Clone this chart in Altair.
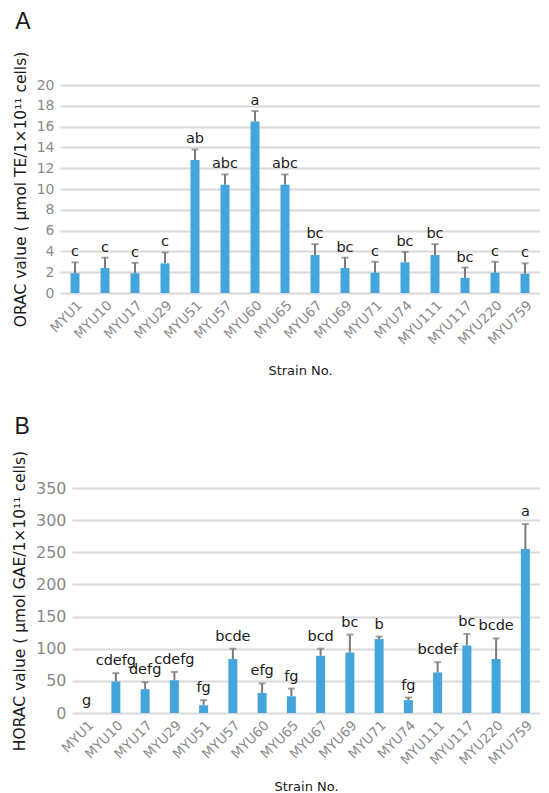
import altair as alt
import pandas as pd

strains = ["MYU1", "MYU10", "MYU17", "MYU29", "MYU51", "MYU57", "MYU60", "MYU65",
           "MYU67", "MYU69", "MYU71", "MYU74", "MYU111", "MYU117", "MYU220", "MYU759"]

orac_mean = [1.9, 2.4, 1.9, 2.85, 12.8, 10.4, 16.5, 10.4, 3.65, 2.4, 1.95, 2.95, 3.65, 1.45, 1.95, 1.85]
orac_err = [1.05, 1.0, 1.0, 1.05, 1.0, 1.0, 1.0, 1.0, 1.05, 1.0, 1.05, 1.0, 1.05, 1.0, 1.05, 1.0]
orac_letters = ["c", "c", "c", "c", "ab", "abc", "a", "abc", "bc", "bc", "c", "bc", "bc", "bc", "c", "c"]

horac_mean = [0, 49, 37, 51, 12, 84, 31, 26, 89, 94, 115, 20, 63, 105, 84, 255]
horac_err = [0, 13, 11, 13, 8, 16, 15, 12, 11, 28, 4, 4, 16, 18, 32, 39]
horac_letters = ["g", "cdefg", "defg", "cdefg", "fg", "bcde", "efg", "fg", "bcd", "bc", "b", "fg",
                 "bcdef", "bc", "bcde", "a"]

orac_ticks = list(range(0, 21, 2))
horac_ticks = list(range(0, 351, 50))

BAR = "#44a4dc"
ERR = "#7a7a7a"
GRID = "#d9d9d9"
LABEL = "#8a8a8a"
FONT = "DejaVu Sans"
W = 480


def panel(means, errs, letters, letter, ytitle, ticks, height,
          ylab_size, xrange, yoffset, xtitle_pad, text_dy, title_offset):
    df = pd.DataFrame({
        "strain": strains,
        "mean": means,
        "upper": [m + e for m, e in zip(means, errs)],
        "letters": letters,
    })
    x = alt.X("strain:N", sort=strains,
              scale=alt.Scale(paddingInner=0, paddingOuter=0, range=xrange),
              axis=alt.Axis(title="Strain No.", labelAngle=-45, labelFont=FONT,
                            labelFontSize=13.5, labelColor=LABEL, labelPadding=5,
                            labelOverlap=False,
                            ticks=False, domain=False, grid=False,
                            titleFont=FONT, titleFontSize=13, titleFontWeight="normal",
                            titleColor="#1a1a1a", titlePadding=xtitle_pad))
    yscale = alt.Scale(domain=[ticks[0], ticks[-1]], nice=False)
    yaxis = alt.Axis(title=ytitle, values=ticks, grid=True, gridColor=GRID,
                     gridWidth=2, domain=False, ticks=False, offset=yoffset,
                     labelOverlap=False,
                     labelFont=FONT, labelFontSize=ylab_size, labelColor=LABEL,
                     labelPadding=6, titleFont=FONT, titleFontSize=15.5,
                     titleFontWeight="normal", titleColor="#1a1a1a",
                     titlePadding=8)
    base = alt.Chart(df)
    rule = base.mark_rule(color=ERR, strokeWidth=2).encode(
        x=x, y=alt.Y("mean:Q", scale=yscale, axis=yaxis), y2="upper:Q")
    cap = base.transform_filter("datum.upper > datum.mean").mark_tick(
        color=ERR, size=7, thickness=2).encode(
        x=x, y=alt.Y("upper:Q", scale=yscale, axis=yaxis))
    bars = base.mark_bar(color=BAR, size=9).encode(
        x=x, y=alt.Y("mean:Q", scale=yscale, axis=yaxis))
    text = base.mark_text(font=FONT, fontSize=14.5, color="#1a1a1a", baseline="alphabetic",
                          dy=text_dy).encode(
        x=x, y=alt.Y("upper:Q", scale=yscale, axis=yaxis), text="letters:N")
    return alt.layer(rule, cap, bars, text).properties(
        width=W, height=height,
        title=alt.TitleParams(letter, anchor="start", fontSize=23, fontWeight="normal",
                              font="Liberation Sans", color="#1a1a1a",
                              offset=title_offset, dx=2))


chart_a = panel(orac_mean, orac_err, orac_letters, "A",
                "ORAC value ( μmol TE/1×10¹¹ cells)", orac_ticks, 208,
                14, [0, W], 0, 18, -6, 17)
chart_b = panel(horac_mean, horac_err, horac_letters, "B",
                "HORAC value ( μmol GAE/1×10¹¹ cells)", horac_ticks, 225,
                16, [12, W], -12, 14, -8, 11)

chart = alt.concat(chart_a, chart_b, columns=1, spacing=38).properties(
    padding={"left": 4, "top": 3, "right": 0, "bottom": 0},
).configure_view(stroke=None)

chart.save("out.html", embed_options={"renderer": "svg", "actions": False})
